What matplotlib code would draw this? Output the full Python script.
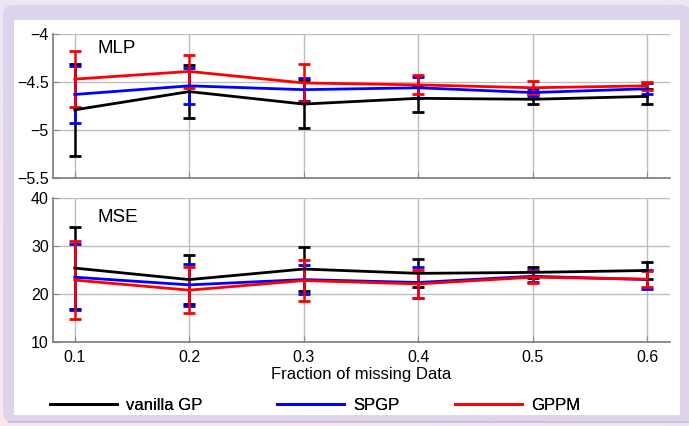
import numpy as np
import matplotlib.pyplot as plt
from matplotlib.patches import FancyBboxPatch, Rectangle

plt.rcParams['font.family'] = ['Liberation Sans', 'DejaVu Sans']

# data
fraction = [0.1, 0.2, 0.3, 0.4, 0.5, 0.6]
methods = ['vanilla GP', 'SPGP', 'GPPM']
colors = ['black', '#0000ff', '#ff0000']

mlp_vanilla = [-4.79, -4.60, -4.73, -4.67, -4.68, -4.65]
mlp_vanilla_err = [0.48, 0.28, 0.25, 0.14, 0.05, 0.08]
mlp_spgp = [-4.63, -4.54, -4.58, -4.56, -4.61, -4.57]
mlp_spgp_err = [0.30, 0.19, 0.12, 0.11, 0.04, 0.06]
mlp_gppm = [-4.47, -4.39, -4.51, -4.53, -4.56, -4.54]
mlp_gppm_err = [0.29, 0.17, 0.20, 0.10, 0.07, 0.04]

mse_vanilla = [25.4, 23.0, 25.2, 24.3, 24.5, 24.9]
mse_vanilla_err = [8.5, 5.1, 4.5, 2.9, 1.2, 1.8]
mse_spgp = [23.5, 21.9, 23.0, 22.4, 23.7, 23.0]
mse_spgp_err = [6.9, 4.4, 3.1, 3.3, 1.2, 2.0]
mse_gppm = [22.9, 20.8, 22.8, 22.1, 23.5, 23.1]
mse_gppm_err = [8.1, 4.8, 4.2, 2.9, 1.2, 1.7]

mlp_means = [mlp_vanilla, mlp_spgp, mlp_gppm]
mlp_errs = [mlp_vanilla_err, mlp_spgp_err, mlp_gppm_err]
mse_means = [mse_vanilla, mse_spgp, mse_gppm]
mse_errs = [mse_vanilla_err, mse_spgp_err, mse_gppm_err]

W, H = 689, 426
fig = plt.figure(figsize=(W / 100, H / 100), dpi=100)

# background: lavender with a pinkish lower-left, then framed white panel
bg = fig.add_axes([0, 0, 1, 1], zorder=-10)
yy, xx = np.mgrid[0:1:200j, 0:1:300j]
t = np.clip(yy * (1 - xx) * 1.6, 0, 1)[..., None]
top = np.array([0xec, 0xe6, 0xf5]) / 255
pink = np.array([0xfb, 0xe6, 0xee]) / 255
bg.imshow(top * (1 - t) + pink * t, extent=[0, W, H, 0], aspect='auto')
bg.add_patch(FancyBboxPatch((3, 5), W, H - 5 - 3, boxstyle='round,pad=0,rounding_size=11',
                            fc='#ddd3ea', ec='none'))
bg.add_patch(Rectangle((8, 421), W, 2, fc='#c9c2d2', ec='none'))
bg.add_patch(Rectangle((14, 20), 666, 395, fc='white', ec='none'))
bg.set_xlim(0, W)
bg.set_ylim(H, 0)
bg.axis('off')

ax1 = fig.add_axes([53 / W, 1 - 178 / H, 617 / W, 144 / H])
ax2 = fig.add_axes([53 / W, 1 - 342 / H, 617 / W, 144 / H])

for ax, means, errs in [(ax1, mlp_means, mlp_errs), (ax2, mse_means, mse_errs)]:
    for m, e, c in zip(means, errs, colors):
        ax.errorbar(fraction, m, yerr=e, color=c, lw=2, elinewidth=1.8,
                    capsize=4.5, capthick=2)
    ax.set_xlim(0.081, 0.62)
    ax.set_xticks(fraction)
    ax.grid(True, color='#bdbdbd', lw=1)
    ax.set_axisbelow(True)
    for s in ['top', 'right']:
        ax.spines[s].set_visible(False)
    for s in ['left', 'bottom']:
        ax.spines[s].set_color('#7a7a7a')
        ax.spines[s].set_linewidth(1.2)
    ax.tick_params(direction='in', length=4, color='#8a8a8a', labelsize=11.5, pad=3)

ax1.set_ylim(-5.5, -4)
ax1.set_yticks([-5.5, -5, -4.5, -4])
ax1.set_yticklabels(['\u22125.5', '\u22125', '\u22124.5', '\u22124'])
ax1.tick_params(axis='x', labelbottom=False)
ax1.text(0.12, -4.15, 'MLP', fontsize=13.5, va='center')

ax2.set_ylim(10, 40)
ax2.set_yticks([10, 20, 30, 40])
ax2.set_xticklabels([str(f) for f in fraction])
ax2.tick_params(axis='x', pad=6)
ax2.set_xlabel('Fraction of missing Data', fontsize=12, labelpad=1.5)
ax2.text(0.12, 35.9, 'MSE', fontsize=13.5, va='center')

# legend entries sit at fixed spots along the bottom
legend_x = [50, 277, 455]
for name, c, x in zip(methods, colors, legend_x):
    h = plt.Line2D([], [], color=c, lw=2)
    leg = fig.legend([h], [name], loc='center left', bbox_to_anchor=(x / W, 1 - 405 / H),
                     frameon=False, fontsize=12, handlelength=4.0, handletextpad=0.55,
                     borderpad=0, borderaxespad=0)
    fig.add_artist(leg)

fig.savefig('out.png', dpi=100)
